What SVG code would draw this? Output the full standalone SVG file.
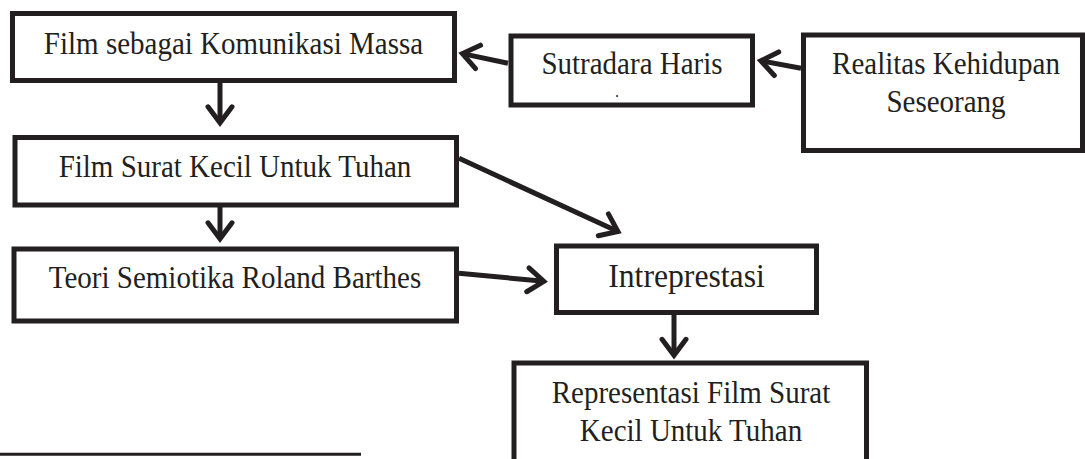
<svg xmlns="http://www.w3.org/2000/svg" width="1085" height="459" viewBox="0 0 1085 459">
  <style>
    .box { fill: #ffffff; stroke: #231f20; stroke-width: 5; }
    .lbl { font-family: "Liberation Serif", "Times New Roman", serif; font-size: 29px; fill: #231f20; text-anchor: middle; }
    .big { font-size: 31.7px; }
    .con { stroke: #231f20; stroke-width: 5; fill: none; marker-end: url(#chev); }
  </style>
  <defs>
    <marker id="chev" markerUnits="userSpaceOnUse" orient="auto" refX="0" refY="0" markerWidth="40" markerHeight="40" viewBox="-20 -20 40 40" overflow="visible">
      <path d="M -16 -12 L 0 0 L -16 12" fill="none" stroke="#231f20" stroke-width="5" stroke-linejoin="miter" stroke-miterlimit="10" stroke-linecap="round"/>
    </marker>
  </defs>
  <rect width="1085" height="459" fill="#ffffff"/>

  <g id="connectors">
    <line class="con" x1="508" y1="63.3" x2="462.4" y2="53.6"/>
    <line class="con" x1="801" y1="68.3" x2="760.8" y2="60.8"/>
    <line class="con" x1="220" y1="83" x2="220" y2="122.8"/>
    <line class="con" x1="220" y1="207" x2="220" y2="238.8"/>
    <line class="con" x1="459" y1="158.3" x2="617.9" y2="231.5"/>
    <line class="con" x1="459" y1="273.3" x2="543.8" y2="281.3"/>
    <line class="con" x1="674" y1="315" x2="674" y2="355.3"/>
  </g>

  <g id="node-film-komunikasi">
    <rect class="box" x="12.5" y="13.5" width="442" height="67"/>
    <text class="lbl" x="233.5" y="0" transform="translate(0,53.5) scale(1,1.08)">Film sebagai Komunikasi Massa</text>
  </g>
  <g id="node-sutradara">
    <rect class="box" x="511" y="36" width="241.5" height="69"/>
    <text class="lbl" x="632" y="0" transform="translate(0,73.5) scale(1,1.08)">Sutradara Haris</text>
    <text class="lbl" x="617" y="96.5" style="font-size:16px">.</text>
  </g>
  <g id="node-realitas">
    <rect class="box" x="803.5" y="35" width="279" height="115.5"/>
    <text class="lbl" x="946" y="0" transform="translate(0,73.5) scale(1,1.08)">Realitas Kehidupan</text>
    <text class="lbl" x="946" y="0" transform="translate(0,111.7) scale(1,1.08)">Seseorang</text>
  </g>
  <g id="node-film-surat">
    <rect class="box" x="15" y="137.5" width="441.5" height="67.5"/>
    <text class="lbl" x="235" y="0" transform="translate(0,177) scale(1,1.08)">Film Surat Kecil Untuk Tuhan</text>
  </g>
  <g id="node-teori">
    <rect class="box" x="14" y="249" width="442.5" height="72"/>
    <text class="lbl" x="235" y="0" transform="translate(0,288) scale(1,1.08)">Teori Semiotika Roland Barthes</text>
  </g>
  <g id="node-intreprestasi">
    <rect class="box" x="556.5" y="246" width="260" height="66.5"/>
    <text class="lbl big" x="686.5" y="0" transform="translate(0,287) scale(1,1.08)">Intreprestasi</text>
  </g>
  <g id="node-representasi">
    <rect class="box" x="514" y="363" width="352.5" height="130"/>
    <text class="lbl" x="691" y="0" transform="translate(0,402.7) scale(1,1.08)">Representasi Film Surat</text>
    <text class="lbl" x="691" y="0" transform="translate(0,440.7) scale(1,1.08)">Kecil Untuk Tuhan</text>
  </g>

  <line x1="0" y1="454.3" x2="361" y2="454.3" stroke="#231f20" stroke-width="3"/>
</svg>
